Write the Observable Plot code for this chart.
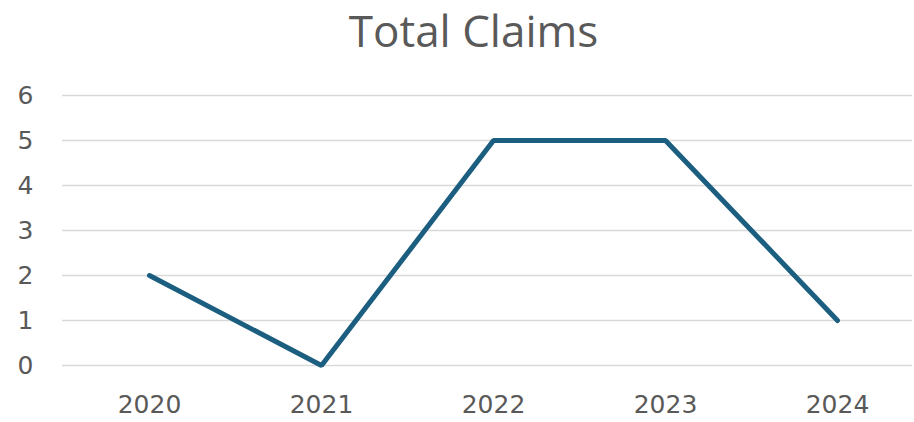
<!DOCTYPE html>
<html>
<head>
<meta charset="utf-8">
<script src="https://cdn.jsdelivr.net/npm/d3@7"></script>
<script src="https://cdn.jsdelivr.net/npm/@observablehq/plot@0.6"></script>
<style>
  html, body { margin: 0; padding: 0; background: #fff; }
</style>
</head>
<body>
<div id="chart"></div>
<script>
const title = "Total Claims";
const years = ["2020", "2021", "2022", "2023", "2024"];
const claims = [2, 0, 5, 5, 1];
const yTicks = [0, 1, 2, 3, 4, 5, 6];

const data = years.map((year, i) => ({year, claims: claims[i]}));

const chart = Plot.plot({
  width: 914,
  height: 422,
  marginTop: 95,
  marginBottom: 57,
  marginLeft: 62,
  marginRight: 2,
  style: {fontFamily: "'DejaVu Sans', sans-serif", color: "#595959", background: "#fff"},
  x: {type: "point", domain: years, range: [148, 837], padding: 0, label: null},
  y: {domain: [0, 6], ticks: yTicks, tickFormat: "d", label: null},
  marks: [
    Plot.ruleY(yTicks, {stroke: "#d9d9d9", strokeWidth: 1.6}),
    Plot.axisY({ticks: yTicks, tickFormat: "d", tickSize: 0, tickPadding: 29, fontSize: 25, fill: "#595959", label: null}),
    Plot.axisX({tickSize: 0, tickPadding: 30, fontSize: 25, fill: "#595959", label: null}),
    Plot.line(data, {x: "year", y: "claims", stroke: "#1b5e80", strokeWidth: 5, strokeLinecap: "round", strokeLinejoin: "miter"}),
    Plot.text([title], {text: d => d, frameAnchor: "top", dy: -63, dx: -14, fontSize: 44, fontFamily: "'Open Sans', sans-serif", fill: "#595959", lineAnchor: "middle"})
  ]
});
document.getElementById("chart").append(chart);
</script>
</body>
</html>
